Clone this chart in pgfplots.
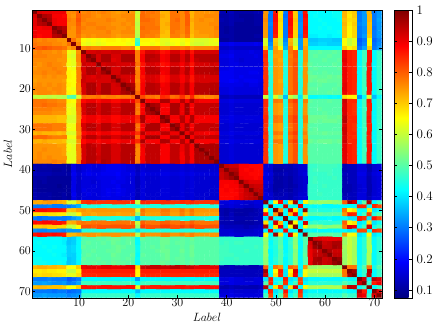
\documentclass[border=0pt]{standalone}
\usepackage{pgfplots}
\pgfplotsset{compat=1.18}
\begin{document}
\begin{tikzpicture}
\useasboundingbox (-32.3pt,-29.3pt) rectangle (403.7pt,297.7pt);
\begin{axis}[
    at={(0pt,0pt)}, anchor=south west,
    scale only axis,
    width=349.4pt, height=287.7pt,
    xmin=0.5, xmax=71.5, ymin=0.5, ymax=71.5,
    y dir=reverse,
    axis on top,
    tick align=inside,
    tick style={black, line width=0.5pt},
    major tick length=3pt,
    xtick={10,20,...,70}, ytick={10,20,...,70},
    font=\fontsize{13}{15}\selectfont,
    tick label style={font=\fontsize{13}{15}\selectfont},
    xticklabel style={yshift=2pt},
    yticklabel style={xshift=2pt},
    xlabel={$Label$}, ylabel={$Label$},
    every axis x label/.style={at={(axis description cs:0.5,-0.0695)},anchor=center},
    every axis y label/.style={at={(axis description cs:-0.07,0.5)},anchor=center,rotate=90},
    colormap/jet,
    point meta min=0.075, point meta max=1,
    colorbar,
    colorbar style={
        at={(1.036,1)}, anchor=north west,
        width=17.7pt,
        ytick={0.1,0.2,0.3,0.4,0.5,0.6,0.7,0.8,0.9,1},
        yticklabels={0.1,0.2,0.3,0.4,0.5,0.6,0.7,0.8,0.9,1},
        tick align=inside,
        major tick length=3pt,
        yticklabel style={xshift=1pt},
    },
]
\addplot[matrix plot*, mesh/cols=71, point meta={\thisrowno{0}/100}]
table[row sep=\\, header=false, x expr={\coordindex-71*floor((\coordindex+0.5)/71)+1}, y expr={floor((\coordindex+0.5)/71)+1}] {
100\\92\\91\\91\\90\\90\\90\\ 76\\76\\80\\ 76\\77\\76\\76\\77\\76\\75\\74\\75\\76\\75\\ 60\\ 79\\78\\78\\77\\72\\72\\78\\78\\76\\80\\72\\75\\75\\75\\75\\76\\ 12\\12\\13\\11\\11\\11\\11\\12\\12\\ 75\\30\\87\\68\\30\\88\\70\\32\\87\\ 42\\42\\42\\42\\42\\43\\43\\ 72\\68\\70\\30\\33\\72\\30\\33\\
92\\100\\96\\95\\89\\89\\88\\ 76\\75\\80\\ 77\\77\\76\\75\\76\\76\\75\\75\\76\\76\\76\\ 61\\ 79\\78\\77\\77\\73\\72\\78\\78\\76\\80\\72\\75\\75\\76\\76\\76\\ 11\\11\\12\\11\\10\\10\\10\\11\\11\\ 75\\30\\88\\68\\29\\87\\70\\31\\88\\ 42\\43\\42\\42\\42\\43\\43\\ 72\\67\\70\\30\\33\\72\\30\\33\\
91\\96\\100\\96\\90\\89\\89\\ 77\\76\\81\\ 77\\76\\76\\76\\76\\77\\76\\75\\75\\76\\76\\ 60\\ 79\\79\\78\\77\\72\\72\\78\\79\\76\\80\\73\\75\\76\\75\\75\\76\\ 12\\11\\12\\11\\11\\10\\10\\11\\11\\ 76\\30\\88\\69\\30\\88\\71\\31\\87\\ 42\\42\\43\\42\\42\\42\\43\\ 71\\68\\69\\30\\33\\72\\30\\34\\
91\\95\\96\\100\\90\\89\\89\\ 76\\76\\80\\ 76\\77\\77\\76\\76\\76\\75\\75\\76\\75\\76\\ 59\\ 78\\78\\78\\77\\72\\73\\78\\78\\76\\80\\72\\75\\75\\75\\76\\76\\ 11\\11\\12\\10\\10\\10\\10\\11\\11\\ 75\\31\\87\\68\\30\\88\\70\\32\\87\\ 42\\42\\42\\43\\42\\42\\42\\ 72\\67\\70\\31\\33\\71\\30\\33\\
90\\89\\90\\90\\100\\97\\95\\ 76\\75\\79\\ 77\\76\\76\\77\\77\\76\\76\\75\\75\\76\\75\\ 60\\ 79\\78\\78\\78\\72\\72\\78\\78\\76\\79\\72\\75\\75\\75\\75\\77\\ 11\\10\\11\\10\\10\\10\\10\\10\\10\\ 75\\30\\87\\68\\30\\87\\70\\32\\88\\ 42\\42\\43\\42\\43\\42\\42\\ 71\\66\\69\\30\\32\\71\\29\\33\\
90\\89\\89\\89\\97\\100\\96\\ 75\\75\\79\\ 76\\76\\76\\76\\76\\77\\75\\75\\76\\76\\76\\ 59\\ 78\\78\\77\\77\\72\\71\\78\\77\\76\\79\\72\\74\\75\\75\\75\\76\\ 11\\10\\11\\10\\10\\10\\10\\10\\10\\ 74\\30\\87\\67\\30\\87\\69\\32\\87\\ 42\\42\\42\\42\\42\\42\\43\\ 71\\66\\69\\30\\32\\71\\30\\33\\
90\\88\\89\\89\\95\\96\\100\\ 75\\75\\78\\ 75\\76\\75\\76\\76\\76\\75\\74\\75\\75\\75\\ 58\\ 78\\77\\77\\76\\71\\71\\77\\77\\75\\78\\71\\74\\74\\74\\75\\76\\ 11\\11\\11\\10\\10\\10\\10\\11\\11\\ 74\\30\\86\\67\\30\\86\\69\\31\\86\\ 41\\41\\42\\42\\41\\42\\42\\ 71\\66\\69\\30\\33\\70\\30\\33\\
77\\76\\77\\76\\76\\75\\75\\ 100\\78\\74\\ 65\\64\\65\\64\\65\\66\\66\\65\\66\\65\\66\\ 48\\ 66\\66\\65\\66\\63\\63\\65\\65\\64\\66\\63\\62\\62\\62\\63\\64\\ 10\\10\\11\\10\\10\\10\\10\\10\\10\\ 62\\30\\70\\60\\31\\72\\60\\33\\72\\ 37\\37\\38\\38\\38\\37\\37\\ 65\\60\\63\\27\\30\\65\\28\\31\\
78\\77\\77\\77\\76\\76\\75\\ 78\\100\\76\\ 64\\63\\64\\63\\64\\65\\65\\65\\65\\64\\65\\ 46\\ 65\\65\\64\\65\\63\\62\\64\\65\\63\\65\\62\\61\\61\\62\\63\\63\\ 17\\17\\18\\17\\17\\17\\17\\18\\17\\ 62\\32\\71\\60\\33\\73\\60\\33\\72\\ 38\\38\\39\\39\\38\\38\\38\\ 65\\60\\63\\28\\31\\65\\29\\32\\
80\\80\\81\\80\\79\\79\\78\\ 74\\76\\100\\ 76\\77\\76\\76\\77\\77\\77\\77\\76\\76\\77\\ 65\\ 78\\78\\78\\78\\75\\75\\78\\78\\77\\78\\75\\76\\76\\76\\76\\77\\ 14\\14\\15\\14\\14\\14\\14\\14\\14\\ 70\\35\\74\\66\\35\\77\\65\\33\\74\\ 42\\42\\42\\42\\42\\42\\42\\ 70\\66\\68\\30\\34\\70\\30\\33\\
76\\77\\76\\76\\75\\76\\74\\ 64\\63\\75\\ 100\\92\\92\\93\\92\\92\\93\\93\\92\\92\\92\\ 77\\ 87\\92\\92\\91\\87\\88\\92\\92\\89\\92\\87\\92\\92\\92\\92\\92\\ 16\\16\\17\\16\\16\\16\\17\\16\\16\\ 84\\45\\75\\74\\45\\78\\81\\45\\75\\ 50\\50\\51\\50\\50\\51\\50\\ 90\\86\\85\\42\\48\\87\\42\\47\\
77\\77\\77\\76\\76\\76\\75\\ 63\\62\\76\\ 92\\100\\97\\92\\96\\96\\92\\92\\96\\96\\96\\ 77\\ 89\\95\\95\\94\\89\\90\\95\\95\\91\\95\\89\\95\\95\\95\\95\\95\\ 17\\17\\18\\16\\16\\16\\16\\17\\16\\ 85\\45\\74\\74\\44\\77\\81\\45\\75\\ 50\\51\\50\\50\\51\\50\\50\\ 90\\86\\85\\42\\48\\87\\42\\47\\
76\\76\\76\\76\\76\\75\\75\\ 64\\63\\76\\ 92\\97\\100\\92\\96\\96\\91\\92\\96\\96\\96\\ 77\\ 89\\95\\94\\94\\89\\90\\95\\95\\91\\95\\89\\94\\95\\95\\95\\95\\ 16\\16\\17\\16\\15\\16\\16\\16\\16\\ 84\\45\\75\\73\\45\\78\\80\\45\\75\\ 50\\50\\50\\51\\50\\50\\51\\ 91\\86\\85\\42\\48\\87\\42\\47\\
76\\75\\76\\77\\76\\76\\75\\ 64\\63\\75\\ 93\\92\\92\\100\\92\\93\\93\\92\\92\\92\\93\\ 78\\ 87\\92\\92\\91\\87\\88\\92\\92\\89\\92\\87\\92\\92\\92\\93\\92\\ 16\\16\\17\\17\\16\\16\\16\\16\\16\\ 84\\44\\75\\74\\45\\78\\81\\45\\74\\ 51\\50\\50\\50\\50\\51\\50\\ 90\\86\\85\\42\\48\\87\\42\\47\\
75\\76\\76\\76\\77\\76\\76\\ 65\\64\\77\\ 92\\96\\96\\92\\100\\97\\92\\92\\96\\96\\96\\ 76\\ 89\\95\\95\\94\\90\\90\\95\\95\\91\\95\\89\\95\\95\\95\\95\\96\\ 17\\17\\18\\17\\17\\17\\17\\17\\17\\ 84\\45\\75\\74\\45\\78\\81\\45\\75\\ 50\\51\\50\\50\\50\\50\\51\\ 90\\86\\85\\42\\48\\87\\42\\47\\
76\\76\\77\\76\\76\\77\\76\\ 66\\65\\77\\ 92\\96\\96\\93\\97\\100\\92\\92\\96\\96\\96\\ 77\\ 89\\95\\95\\95\\89\\90\\95\\95\\91\\95\\89\\95\\95\\95\\95\\95\\ 18\\18\\18\\17\\17\\17\\18\\18\\17\\ 84\\46\\75\\74\\45\\78\\81\\45\\75\\ 51\\50\\50\\51\\50\\50\\50\\ 90\\86\\85\\42\\48\\87\\42\\47\\
75\\75\\76\\75\\76\\75\\75\\ 66\\65\\77\\ 93\\92\\91\\93\\92\\92\\100\\94\\92\\92\\92\\ 77\\ 87\\92\\92\\91\\87\\88\\92\\92\\89\\92\\87\\92\\92\\92\\92\\92\\ 18\\18\\18\\17\\18\\17\\17\\17\\17\\ 84\\45\\75\\74\\45\\78\\81\\46\\75\\ 52\\52\\51\\51\\52\\51\\52\\ 90\\86\\85\\42\\48\\87\\42\\47\\
74\\75\\75\\75\\75\\75\\74\\ 65\\65\\77\\ 93\\92\\92\\92\\92\\92\\94\\100\\93\\92\\92\\ 76\\ 88\\92\\92\\91\\87\\88\\92\\92\\89\\92\\87\\92\\92\\92\\92\\92\\ 18\\18\\19\\18\\17\\18\\18\\18\\17\\ 84\\45\\75\\73\\45\\78\\81\\45\\75\\ 52\\51\\52\\52\\51\\51\\51\\ 90\\86\\85\\42\\48\\87\\42\\47\\
75\\76\\75\\76\\75\\76\\75\\ 66\\65\\76\\ 92\\96\\96\\92\\96\\96\\92\\93\\100\\97\\96\\ 77\\ 89\\95\\95\\94\\89\\90\\95\\95\\91\\95\\89\\95\\95\\95\\95\\95\\ 17\\17\\17\\17\\17\\16\\17\\17\\16\\ 84\\45\\75\\74\\45\\78\\81\\45\\75\\ 50\\50\\51\\50\\50\\50\\51\\ 91\\86\\85\\42\\48\\87\\42\\47\\
76\\76\\76\\75\\76\\76\\75\\ 65\\64\\76\\ 92\\96\\96\\92\\96\\96\\92\\92\\97\\100\\97\\ 77\\ 89\\95\\95\\94\\90\\90\\95\\95\\91\\95\\89\\95\\95\\95\\95\\95\\ 16\\16\\17\\16\\16\\16\\16\\16\\16\\ 84\\45\\75\\74\\44\\78\\81\\45\\75\\ 51\\51\\50\\50\\50\\51\\50\\ 91\\86\\85\\42\\48\\87\\42\\47\\
75\\76\\76\\76\\75\\76\\75\\ 66\\65\\77\\ 92\\96\\96\\93\\96\\96\\92\\92\\96\\97\\100\\ 79\\ 89\\95\\95\\95\\89\\90\\95\\95\\91\\95\\89\\95\\95\\95\\96\\96\\ 16\\16\\17\\16\\16\\16\\16\\16\\16\\ 85\\45\\75\\74\\45\\79\\81\\45\\75\\ 50\\50\\50\\50\\51\\50\\50\\ 90\\86\\85\\42\\48\\87\\42\\47\\
60\\60\\60\\59\\60\\59\\58\\ 50\\49\\62\\ 78\\77\\77\\78\\76\\77\\77\\76\\77\\77\\79\\ 100\\ 82\\78\\78\\77\\85\\84\\78\\79\\84\\79\\85\\77\\76\\76\\76\\77\\ 13\\13\\14\\13\\13\\13\\13\\13\\13\\ 60\\44\\62\\55\\36\\60\\56\\40\\58\\ 42\\42\\43\\43\\42\\43\\42\\ 68\\66\\66\\33\\42\\62\\36\\42\\
78\\78\\78\\77\\77\\76\\76\\ 66\\65\\77\\ 88\\90\\90\\88\\90\\90\\88\\88\\90\\90\\90\\ 82\\ 100\\89\\89\\89\\96\\96\\89\\89\\95\\89\\96\\90\\89\\89\\89\\89\\ 16\\16\\17\\16\\16\\16\\16\\16\\16\\ 85\\45\\78\\77\\45\\80\\83\\45\\77\\ 51\\50\\50\\50\\51\\50\\50\\ 93\\85\\85\\42\\48\\87\\42\\47\\
78\\78\\79\\78\\78\\77\\77\\ 64\\64\\78\\ 92\\95\\95\\92\\95\\95\\92\\92\\95\\95\\95\\ 78\\ 89\\100\\97\\96\\89\\89\\96\\96\\90\\97\\89\\94\\94\\94\\94\\94\\ 15\\15\\16\\15\\15\\15\\15\\15\\15\\ 85\\45\\75\\74\\45\\78\\81\\45\\75\\ 50\\50\\50\\50\\50\\50\\50\\ 92\\85\\84\\42\\48\\86\\42\\47\\
77\\77\\77\\77\\76\\76\\76\\ 64\\63\\77\\ 92\\95\\95\\92\\95\\95\\92\\92\\95\\95\\95\\ 78\\ 89\\97\\100\\97\\89\\89\\96\\96\\90\\97\\89\\94\\94\\94\\94\\94\\ 15\\15\\16\\15\\15\\15\\15\\15\\15\\ 84\\45\\75\\74\\45\\78\\81\\45\\75\\ 50\\50\\51\\50\\50\\50\\50\\ 92\\85\\84\\42\\48\\86\\42\\47\\
76\\76\\76\\76\\75\\75\\75\\ 64\\63\\77\\ 92\\95\\95\\92\\95\\95\\92\\92\\95\\95\\95\\ 77\\ 89\\96\\97\\100\\89\\89\\96\\96\\90\\97\\89\\94\\94\\94\\94\\94\\ 15\\15\\16\\15\\15\\15\\15\\15\\15\\ 84\\45\\75\\74\\45\\78\\81\\45\\75\\ 50\\50\\50\\51\\50\\50\\50\\ 92\\85\\84\\42\\48\\86\\42\\47\\
72\\72\\72\\72\\72\\71\\71\\ 62\\62\\76\\ 88\\90\\90\\88\\90\\90\\88\\88\\90\\90\\90\\ 85\\ 96\\89\\89\\89\\100\\97\\89\\89\\95\\89\\96\\89\\89\\89\\89\\89\\ 16\\16\\17\\16\\16\\16\\16\\16\\16\\ 85\\45\\78\\77\\45\\80\\83\\45\\77\\ 52\\52\\52\\52\\51\\51\\52\\ 94\\85\\85\\42\\48\\87\\42\\47\\
72\\72\\72\\72\\72\\71\\71\\ 62\\62\\76\\ 88\\90\\90\\88\\90\\90\\88\\88\\90\\90\\90\\ 84\\ 96\\89\\89\\89\\97\\100\\89\\89\\95\\89\\96\\89\\89\\89\\89\\89\\ 16\\16\\17\\16\\16\\16\\16\\16\\16\\ 85\\45\\78\\77\\45\\80\\83\\45\\77\\ 52\\52\\51\\52\\52\\52\\51\\ 95\\85\\85\\42\\48\\87\\42\\47\\
78\\78\\78\\78\\77\\77\\77\\ 64\\64\\77\\ 92\\95\\95\\92\\95\\95\\92\\92\\95\\95\\95\\ 78\\ 89\\96\\96\\96\\89\\89\\100\\97\\90\\96\\89\\94\\94\\94\\94\\94\\ 15\\15\\16\\15\\15\\15\\15\\15\\15\\ 84\\45\\75\\74\\45\\78\\81\\45\\75\\ 50\\50\\50\\50\\50\\50\\50\\ 92\\85\\84\\42\\48\\86\\42\\47\\
78\\78\\78\\78\\77\\77\\77\\ 64\\64\\77\\ 92\\95\\95\\92\\95\\95\\92\\92\\95\\95\\95\\ 79\\ 89\\96\\96\\96\\89\\89\\97\\100\\90\\96\\89\\94\\94\\94\\94\\94\\ 15\\15\\16\\15\\15\\15\\15\\15\\15\\ 84\\45\\75\\74\\45\\78\\81\\45\\75\\ 50\\51\\50\\50\\50\\50\\50\\ 93\\85\\84\\42\\48\\86\\42\\47\\
72\\73\\72\\72\\72\\71\\72\\ 62\\62\\76\\ 88\\90\\90\\88\\90\\90\\88\\88\\90\\90\\90\\ 84\\ 95\\90\\90\\90\\95\\95\\90\\90\\100\\90\\95\\90\\90\\89\\89\\90\\ 16\\16\\17\\16\\16\\16\\16\\16\\16\\ 85\\45\\78\\77\\45\\80\\83\\45\\77\\ 51\\51\\51\\52\\51\\51\\51\\ 93\\85\\85\\42\\48\\87\\42\\47\\
79\\79\\79\\78\\77\\77\\77\\ 64\\64\\78\\ 92\\95\\95\\92\\95\\95\\92\\92\\95\\95\\95\\ 79\\ 89\\97\\97\\97\\89\\89\\96\\96\\90\\100\\89\\94\\94\\94\\94\\94\\ 15\\15\\16\\15\\15\\15\\15\\15\\15\\ 84\\45\\75\\74\\45\\78\\81\\45\\75\\ 50\\50\\50\\50\\50\\50\\50\\ 92\\85\\84\\42\\48\\86\\42\\47\\
72\\72\\73\\72\\72\\72\\71\\ 62\\62\\75\\ 88\\90\\90\\88\\90\\90\\88\\88\\90\\90\\90\\ 85\\ 96\\89\\89\\89\\96\\96\\89\\89\\95\\89\\100\\89\\89\\89\\89\\89\\ 16\\16\\17\\16\\16\\16\\16\\16\\16\\ 85\\45\\78\\77\\45\\80\\83\\45\\77\\ 52\\51\\52\\52\\52\\51\\52\\ 93\\85\\85\\42\\48\\87\\42\\47\\
75\\75\\75\\75\\75\\74\\74\\ 64\\63\\76\\ 92\\95\\94\\92\\95\\95\\92\\92\\95\\95\\95\\ 77\\ 90\\94\\94\\94\\89\\89\\94\\94\\90\\94\\89\\100\\96\\96\\96\\96\\ 15\\15\\16\\15\\15\\15\\15\\15\\15\\ 84\\45\\75\\74\\45\\78\\81\\45\\75\\ 50\\50\\50\\50\\50\\50\\50\\ 91\\86\\85\\42\\48\\87\\42\\47\\
75\\75\\76\\75\\75\\75\\74\\ 64\\63\\76\\ 92\\95\\95\\92\\95\\95\\92\\92\\95\\95\\95\\ 76\\ 89\\94\\94\\94\\89\\89\\94\\94\\90\\94\\89\\96\\100\\96\\96\\96\\ 15\\15\\16\\15\\15\\15\\15\\15\\15\\ 84\\45\\75\\74\\45\\78\\81\\45\\75\\ 50\\50\\50\\50\\50\\50\\50\\ 91\\86\\85\\42\\48\\87\\42\\47\\
75\\76\\75\\75\\75\\75\\74\\ 63\\63\\76\\ 92\\95\\95\\92\\95\\95\\92\\92\\95\\95\\95\\ 76\\ 89\\94\\94\\94\\89\\89\\94\\94\\89\\94\\89\\96\\96\\100\\96\\96\\ 15\\15\\16\\15\\15\\15\\15\\15\\15\\ 84\\45\\75\\74\\45\\78\\81\\45\\75\\ 50\\50\\50\\50\\50\\50\\50\\ 91\\86\\85\\42\\48\\87\\42\\47\\
75\\76\\75\\76\\75\\75\\75\\ 63\\63\\76\\ 92\\95\\95\\93\\95\\95\\92\\92\\95\\95\\96\\ 76\\ 89\\94\\94\\94\\89\\89\\94\\94\\89\\94\\89\\96\\96\\96\\100\\96\\ 15\\15\\16\\15\\15\\15\\15\\15\\15\\ 84\\45\\75\\74\\45\\78\\81\\45\\75\\ 50\\50\\50\\50\\50\\50\\50\\ 91\\86\\85\\42\\48\\87\\42\\47\\
76\\76\\76\\76\\77\\76\\76\\ 64\\63\\77\\ 92\\95\\95\\92\\96\\95\\92\\92\\95\\95\\96\\ 77\\ 89\\94\\94\\94\\89\\89\\94\\94\\90\\94\\89\\96\\96\\96\\96\\100\\ 15\\15\\16\\15\\15\\15\\15\\15\\15\\ 84\\45\\75\\74\\45\\78\\81\\45\\75\\ 50\\50\\50\\50\\50\\50\\50\\ 91\\86\\85\\42\\48\\87\\42\\47\\
12\\11\\12\\11\\11\\11\\11\\ 10\\17\\14\\ 16\\17\\16\\16\\17\\18\\18\\18\\17\\16\\16\\ 13\\ 16\\15\\15\\15\\16\\16\\15\\15\\16\\15\\16\\15\\15\\15\\15\\15\\ 100\\94\\93\\93\\89\\89\\88\\88\\88\\ 16\\15\\12\\12\\13\\12\\14\\15\\15\\ 47\\47\\48\\48\\48\\48\\47\\ 12\\13\\13\\16\\16\\12\\15\\16\\
12\\11\\11\\11\\10\\10\\11\\ 10\\17\\14\\ 16\\17\\16\\16\\17\\18\\18\\18\\17\\16\\16\\ 13\\ 16\\15\\15\\15\\16\\16\\15\\15\\16\\15\\16\\15\\15\\15\\15\\15\\ 94\\100\\95\\95\\89\\88\\89\\88\\88\\ 16\\15\\11\\11\\12\\12\\13\\15\\15\\ 47\\48\\48\\48\\48\\47\\47\\ 12\\13\\13\\16\\16\\12\\15\\16\\
13\\12\\12\\12\\11\\11\\11\\ 11\\18\\15\\ 17\\18\\17\\17\\18\\18\\18\\19\\17\\17\\17\\ 14\\ 17\\16\\16\\16\\17\\17\\16\\16\\17\\16\\17\\16\\16\\16\\16\\16\\ 93\\95\\100\\97\\89\\89\\88\\88\\88\\ 17\\16\\12\\12\\13\\12\\13\\15\\16\\ 47\\47\\47\\47\\48\\47\\47\\ 13\\13\\13\\17\\17\\13\\16\\17\\
11\\11\\11\\10\\10\\10\\10\\ 10\\17\\14\\ 16\\16\\16\\17\\17\\17\\17\\18\\17\\16\\16\\ 13\\ 16\\15\\15\\15\\16\\16\\15\\15\\16\\15\\16\\15\\15\\15\\15\\15\\ 93\\95\\97\\100\\90\\89\\89\\88\\89\\ 16\\15\\11\\11\\12\\11\\13\\14\\15\\ 47\\48\\47\\47\\47\\48\\47\\ 12\\13\\13\\16\\16\\12\\15\\16\\
11\\10\\11\\10\\10\\10\\10\\ 10\\17\\14\\ 16\\16\\15\\16\\17\\17\\18\\17\\17\\16\\16\\ 13\\ 16\\15\\15\\15\\16\\16\\15\\15\\16\\15\\16\\15\\15\\15\\15\\15\\ 89\\89\\89\\90\\100\\93\\91\\91\\91\\ 16\\15\\11\\11\\12\\11\\13\\14\\15\\ 47\\48\\47\\47\\47\\47\\47\\ 12\\13\\13\\16\\16\\12\\15\\16\\
11\\10\\10\\10\\10\\9\\10\\ 10\\17\\14\\ 16\\16\\16\\16\\17\\17\\17\\18\\16\\16\\16\\ 13\\ 16\\15\\15\\15\\16\\16\\15\\15\\16\\15\\16\\15\\15\\15\\15\\15\\ 89\\88\\89\\89\\93\\100\\94\\93\\93\\ 15\\14\\11\\11\\12\\11\\12\\14\\15\\ 47\\47\\47\\48\\47\\47\\47\\ 12\\12\\13\\15\\16\\12\\15\\16\\
11\\10\\10\\10\\10\\10\\10\\ 10\\17\\14\\ 17\\16\\16\\16\\17\\18\\17\\18\\17\\16\\16\\ 13\\ 16\\15\\15\\15\\16\\16\\15\\15\\16\\15\\16\\15\\15\\15\\15\\15\\ 88\\89\\88\\89\\91\\94\\100\\94\\94\\ 15\\14\\11\\12\\12\\11\\13\\14\\15\\ 47\\47\\47\\47\\47\\47\\47\\ 12\\12\\13\\15\\16\\12\\15\\16\\
12\\11\\11\\11\\10\\10\\11\\ 10\\18\\14\\ 16\\17\\16\\16\\17\\18\\17\\18\\17\\16\\16\\ 13\\ 16\\15\\15\\15\\16\\16\\15\\15\\16\\15\\16\\15\\15\\15\\15\\15\\ 88\\88\\88\\88\\91\\93\\94\\100\\95\\ 16\\15\\12\\12\\13\\12\\13\\15\\15\\ 47\\47\\48\\47\\47\\47\\47\\ 12\\13\\13\\16\\16\\12\\15\\16\\
12\\11\\11\\11\\10\\10\\11\\ 10\\17\\14\\ 16\\16\\16\\16\\17\\17\\17\\17\\16\\16\\16\\ 13\\ 16\\15\\15\\15\\16\\16\\15\\15\\16\\15\\16\\15\\15\\15\\15\\15\\ 88\\88\\88\\89\\91\\93\\94\\95\\100\\ 16\\15\\13\\13\\13\\12\\14\\15\\16\\ 47\\47\\47\\47\\47\\47\\47\\ 13\\13\\13\\16\\16\\13\\16\\16\\
73\\73\\74\\75\\74\\73\\72\\ 62\\62\\70\\ 84\\85\\84\\84\\84\\84\\84\\84\\84\\84\\85\\ 60\\ 85\\85\\84\\84\\85\\85\\84\\84\\85\\84\\85\\84\\84\\84\\84\\84\\ 16\\16\\17\\16\\16\\15\\15\\16\\16\\ 100\\42\\66\\88\\40\\68\\96\\41\\66\\ 56\\55\\56\\56\\56\\55\\55\\ 80\\97\\93\\40\\50\\95\\42\\48\\
30\\30\\30\\31\\30\\30\\30\\ 30\\32\\35\\ 45\\45\\45\\44\\45\\46\\45\\45\\45\\45\\45\\ 44\\ 45\\45\\45\\45\\45\\45\\45\\45\\45\\45\\45\\45\\45\\45\\45\\45\\ 15\\15\\16\\15\\15\\14\\14\\15\\15\\ 42\\100\\42\\43\\92\\43\\42\\90\\42\\ 43\\42\\43\\42\\42\\42\\42\\ 42\\42\\42\\85\\85\\42\\85\\82\\
87\\88\\88\\87\\87\\87\\86\\ 70\\71\\74\\ 75\\74\\75\\75\\75\\75\\75\\75\\75\\75\\75\\ 62\\ 78\\75\\75\\75\\78\\78\\75\\75\\78\\75\\78\\75\\75\\75\\75\\75\\ 12\\11\\12\\11\\11\\11\\11\\12\\13\\ 66\\42\\100\\75\\42\\92\\68\\41\\97\\ 46\\46\\45\\45\\45\\46\\45\\ 78\\65\\68\\42\\42\\68\\40\\42\\
68\\68\\69\\68\\68\\67\\67\\ 60\\60\\66\\ 74\\74\\73\\74\\74\\74\\74\\73\\74\\74\\74\\ 55\\ 77\\74\\74\\74\\77\\77\\74\\74\\77\\74\\77\\74\\74\\74\\74\\74\\ 12\\11\\13\\11\\11\\11\\12\\12\\13\\ 88\\43\\75\\100\\42\\72\\90\\42\\68\\ 50\\50\\51\\50\\50\\50\\50\\ 75\\86\\85\\42\\48\\83\\45\\50\\
30\\29\\30\\30\\30\\30\\30\\ 31\\33\\35\\ 45\\44\\45\\45\\45\\45\\45\\45\\45\\44\\45\\ 36\\ 45\\45\\45\\45\\45\\45\\45\\45\\45\\45\\45\\45\\45\\45\\45\\45\\ 13\\12\\13\\12\\12\\12\\12\\13\\13\\ 40\\92\\42\\42\\100\\42\\42\\88\\42\\ 42\\42\\42\\42\\43\\42\\42\\ 42\\40\\40\\86\\84\\40\\87\\82\\
88\\87\\88\\88\\87\\87\\86\\ 72\\73\\77\\ 78\\77\\78\\78\\78\\78\\78\\78\\78\\78\\79\\ 60\\ 80\\78\\78\\78\\80\\80\\78\\78\\80\\78\\80\\78\\78\\78\\78\\78\\ 12\\12\\12\\11\\11\\11\\11\\12\\12\\ 68\\43\\92\\72\\42\\100\\66\\42\\92\\ 46\\47\\46\\46\\46\\46\\46\\ 80\\66\\68\\40\\42\\68\\40\\43\\
70\\70\\71\\70\\70\\69\\69\\ 60\\60\\65\\ 81\\81\\80\\81\\81\\81\\81\\81\\81\\81\\81\\ 56\\ 83\\81\\81\\81\\83\\83\\81\\81\\83\\81\\83\\81\\81\\81\\81\\81\\ 14\\13\\13\\13\\13\\12\\13\\13\\14\\ 96\\42\\68\\90\\42\\66\\100\\42\\66\\ 55\\55\\56\\54\\55\\55\\55\\ 78\\92\\90\\42\\48\\92\\44\\48\\
32\\31\\31\\32\\32\\32\\31\\ 33\\33\\33\\ 45\\45\\45\\45\\45\\45\\46\\45\\45\\45\\45\\ 40\\ 45\\45\\45\\45\\45\\45\\45\\45\\45\\45\\45\\45\\45\\45\\45\\45\\ 15\\15\\15\\14\\14\\14\\14\\15\\15\\ 41\\90\\41\\42\\88\\42\\42\\100\\42\\ 43\\42\\42\\42\\42\\42\\42\\ 42\\40\\41\\82\\82\\42\\85\\83\\
87\\88\\87\\87\\88\\87\\86\\ 72\\72\\74\\ 75\\75\\75\\74\\75\\75\\75\\75\\75\\75\\75\\ 58\\ 77\\75\\75\\75\\77\\77\\75\\75\\77\\75\\77\\75\\75\\75\\75\\75\\ 15\\15\\16\\15\\15\\15\\15\\15\\16\\ 66\\42\\97\\68\\42\\92\\66\\42\\100\\ 50\\50\\50\\50\\51\\50\\50\\ 75\\64\\66\\40\\42\\66\\40\\42\\
42\\42\\42\\42\\42\\42\\41\\ 37\\38\\42\\ 50\\50\\50\\51\\50\\51\\52\\52\\50\\51\\50\\ 42\\ 51\\50\\50\\50\\52\\52\\50\\50\\51\\50\\52\\50\\50\\50\\50\\50\\ 47\\47\\47\\47\\47\\47\\47\\47\\47\\ 56\\43\\46\\50\\42\\46\\55\\43\\50\\ 100\\92\\91\\90\\90\\90\\90\\ 56\\60\\57\\42\\46\\58\\42\\46\\
42\\43\\42\\42\\42\\42\\41\\ 37\\38\\42\\ 50\\51\\50\\50\\51\\50\\52\\51\\50\\51\\50\\ 42\\ 50\\50\\50\\50\\52\\52\\50\\51\\51\\50\\51\\50\\50\\50\\50\\50\\ 47\\48\\47\\48\\48\\47\\47\\47\\47\\ 55\\42\\46\\50\\42\\47\\55\\42\\50\\ 92\\100\\98\\93\\94\\96\\96\\ 56\\60\\57\\42\\46\\58\\42\\46\\
42\\42\\43\\42\\43\\42\\42\\ 38\\39\\42\\ 51\\50\\50\\50\\50\\50\\51\\52\\51\\50\\50\\ 43\\ 50\\50\\51\\50\\52\\51\\50\\50\\51\\50\\52\\50\\50\\50\\50\\50\\ 48\\48\\47\\47\\47\\47\\47\\48\\47\\ 56\\43\\45\\51\\42\\46\\56\\42\\50\\ 91\\98\\100\\94\\94\\97\\96\\ 57\\60\\57\\42\\46\\58\\42\\46\\
42\\42\\42\\43\\42\\42\\42\\ 38\\39\\42\\ 50\\50\\51\\50\\50\\51\\51\\52\\50\\50\\50\\ 43\\ 50\\50\\50\\51\\52\\52\\50\\50\\52\\50\\52\\50\\50\\50\\50\\50\\ 48\\48\\47\\47\\47\\48\\47\\47\\47\\ 56\\42\\45\\50\\42\\46\\54\\42\\50\\ 90\\93\\94\\100\\96\\93\\93\\ 56\\60\\57\\42\\46\\58\\42\\46\\
42\\42\\42\\42\\43\\42\\41\\ 38\\38\\42\\ 50\\51\\50\\50\\50\\50\\52\\51\\50\\50\\51\\ 42\\ 51\\50\\50\\50\\51\\52\\50\\50\\51\\50\\52\\50\\50\\50\\50\\50\\ 48\\48\\48\\47\\47\\47\\47\\47\\47\\ 56\\42\\45\\50\\43\\46\\55\\42\\51\\ 90\\94\\94\\96\\100\\94\\94\\ 56\\60\\57\\42\\46\\58\\42\\46\\
43\\43\\42\\42\\42\\42\\42\\ 37\\38\\42\\ 51\\50\\50\\51\\50\\50\\51\\51\\50\\51\\50\\ 43\\ 50\\50\\50\\50\\51\\52\\50\\51\\51\\50\\51\\50\\50\\50\\50\\50\\ 48\\47\\47\\48\\47\\47\\47\\47\\47\\ 55\\42\\46\\50\\42\\46\\55\\42\\50\\ 90\\96\\97\\93\\94\\100\\98\\ 56\\60\\57\\42\\46\\58\\42\\46\\
43\\43\\43\\42\\42\\43\\42\\ 37\\38\\42\\ 50\\50\\51\\50\\51\\50\\52\\51\\51\\50\\50\\ 42\\ 50\\50\\50\\50\\52\\51\\50\\50\\51\\50\\52\\50\\50\\50\\50\\50\\ 47\\47\\47\\47\\47\\47\\47\\47\\47\\ 55\\42\\45\\50\\42\\46\\55\\42\\50\\ 90\\96\\96\\93\\94\\98\\100\\ 56\\60\\57\\42\\46\\58\\42\\46\\
72\\73\\73\\72\\72\\71\\71\\ 65\\65\\70\\ 90\\91\\91\\90\\91\\91\\90\\90\\91\\91\\91\\ 68\\ 93\\94\\94\\94\\93\\93\\95\\95\\93\\94\\93\\91\\91\\91\\91\\91\\ 12\\12\\13\\12\\12\\12\\12\\12\\13\\ 80\\42\\78\\75\\42\\80\\78\\42\\75\\ 56\\56\\57\\56\\56\\56\\56\\ 100\\78\\78\\44\\50\\78\\44\\50\\
67\\67\\68\\67\\67\\66\\66\\ 60\\60\\66\\ 86\\86\\86\\86\\86\\86\\86\\86\\86\\86\\86\\ 66\\ 86\\86\\86\\86\\86\\86\\86\\86\\86\\86\\86\\86\\86\\86\\86\\86\\ 13\\13\\13\\13\\13\\13\\13\\13\\13\\ 97\\42\\65\\86\\40\\66\\92\\40\\64\\ 60\\60\\60\\60\\60\\60\\60\\ 78\\100\\97\\42\\47\\95\\42\\47\\
69\\68\\69\\69\\68\\68\\67\\ 63\\63\\68\\ 85\\85\\85\\85\\85\\85\\85\\85\\85\\85\\85\\ 66\\ 85\\85\\85\\85\\85\\85\\85\\85\\85\\85\\85\\85\\85\\85\\85\\85\\ 13\\13\\13\\13\\13\\13\\13\\13\\13\\ 93\\42\\68\\85\\40\\68\\90\\41\\66\\ 57\\57\\57\\57\\57\\57\\57\\ 78\\97\\100\\42\\47\\94\\42\\47\\
30\\30\\30\\31\\30\\30\\30\\ 27\\28\\30\\ 42\\42\\42\\42\\42\\42\\42\\42\\42\\42\\42\\ 33\\ 42\\42\\42\\42\\42\\42\\42\\42\\42\\42\\42\\42\\42\\42\\42\\42\\ 16\\16\\17\\16\\16\\15\\15\\16\\16\\ 40\\85\\42\\42\\86\\40\\42\\82\\40\\ 42\\42\\42\\42\\42\\42\\42\\ 44\\42\\42\\100\\93\\42\\95\\92\\
33\\33\\34\\33\\32\\32\\33\\ 30\\31\\34\\ 48\\48\\48\\48\\48\\48\\48\\48\\48\\48\\48\\ 42\\ 48\\48\\48\\48\\48\\48\\48\\48\\48\\48\\48\\48\\48\\48\\48\\48\\ 16\\16\\17\\16\\16\\16\\16\\16\\16\\ 50\\85\\42\\48\\84\\42\\48\\82\\42\\ 46\\46\\46\\46\\46\\46\\46\\ 50\\47\\47\\93\\100\\47\\86\\90\\
71\\72\\72\\71\\71\\71\\70\\ 65\\65\\70\\ 87\\87\\87\\87\\87\\87\\87\\87\\87\\87\\87\\ 62\\ 87\\86\\86\\86\\87\\87\\86\\86\\87\\86\\87\\87\\87\\87\\87\\87\\ 12\\12\\13\\12\\12\\12\\12\\12\\13\\ 95\\42\\68\\83\\40\\68\\92\\42\\66\\ 58\\58\\58\\58\\58\\58\\58\\ 78\\95\\94\\42\\47\\100\\42\\47\\
30\\30\\30\\30\\29\\30\\30\\ 28\\29\\30\\ 42\\42\\42\\42\\42\\42\\42\\42\\42\\42\\42\\ 36\\ 42\\42\\42\\42\\42\\42\\42\\42\\42\\42\\42\\42\\42\\42\\42\\42\\ 15\\15\\16\\15\\15\\15\\15\\15\\16\\ 42\\85\\40\\45\\87\\40\\44\\85\\40\\ 42\\42\\42\\42\\42\\42\\42\\ 44\\42\\42\\95\\86\\42\\100\\92\\
33\\33\\34\\33\\33\\33\\33\\ 31\\32\\33\\ 47\\47\\47\\47\\47\\47\\47\\47\\47\\47\\47\\ 42\\ 47\\47\\47\\47\\47\\47\\47\\47\\47\\47\\47\\47\\47\\47\\47\\47\\ 16\\16\\17\\16\\16\\16\\16\\16\\16\\ 48\\82\\42\\50\\82\\43\\48\\83\\42\\ 46\\46\\46\\46\\46\\46\\46\\ 50\\47\\47\\92\\90\\47\\92\\100\\
};
\end{axis}
\end{tikzpicture}
\end{document}
